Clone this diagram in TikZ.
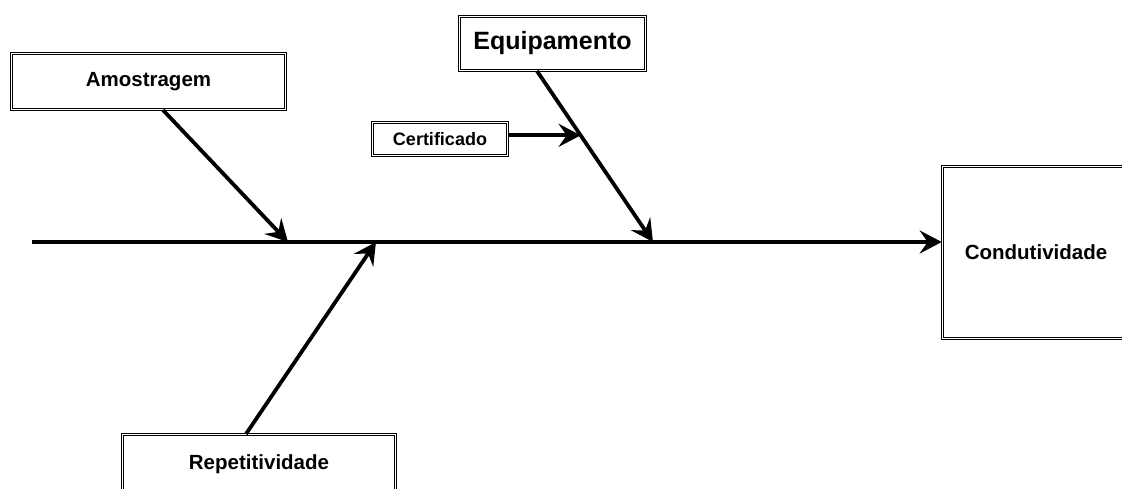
\documentclass[tikz,border=0pt]{standalone}
\usepackage{fontspec}
\setmainfont{Liberation Sans}
\usetikzlibrary{arrows.meta,calc}

\def\spiney{242}
\def\causefont{\bfseries\fontsize{20.5}{24}\selectfont}

\begin{document}
\begin{tikzpicture}[x=1pt,y=-1pt,
  cause/.style={draw,double,line width=1.1pt,double distance=1.3pt,inner sep=0pt,font=\causefont},
  bone/.style={line width=3.8pt,-{Stealth[length=22pt,width=23pt,inset=8pt]}}]
 \useasboundingbox (0,0) rectangle (1122,488);
 % Cause boxes
 \node[cause,minimum width=274pt,minimum height=56pt] (amostragem) at (148.5,81.5) {Amostragem};
 \node[cause,minimum width=186pt,minimum height=54pt,font=\bfseries\fontsize{25}{30}\selectfont] (equipamento) at (552.5,43.5) {Equipamento};
 \node[cause,minimum width=135pt,minimum height=33pt,font=\bfseries\fontsize{18}{22}\selectfont] (certificado) at (440,139) {Certificado};
 \node[cause,minimum width=273pt,minimum height=60pt] (repetitividade) at (259,464.5) {Repetitividade};
 % Effect box
 \node[cause,minimum width=187.5pt,minimum height=172pt] (condutividade) at (1036,252.5) {Condutividade};
 % Points on the spine
 \coordinate (tail) at (32,\spiney);
 \coordinate (amostragem tip) at (288,\spiney);
 \coordinate (repetitividade tip) at (376,\spiney);
 \coordinate (equipamento tip) at (653,\spiney);
 \coordinate (equipamento base) at ([xshift=-15.5pt]equipamento.south);
 \coordinate (certificado tip) at ($(equipamento base)!0.376!(equipamento tip)$);
 % Spine
 \draw[bone] (tail) -- (tail -| condutividade.west);
 % Bones
 \draw[bone] ([xshift=14.5pt]amostragem.south) -- (amostragem tip);
 \draw[bone] (equipamento base) -- (equipamento tip);
 \draw[bone] ([xshift=-13pt]repetitividade.north) -- (repetitividade tip);
 \draw[bone] (certificado.east |- certificado tip) -- (certificado tip);
\end{tikzpicture}
\end{document}
